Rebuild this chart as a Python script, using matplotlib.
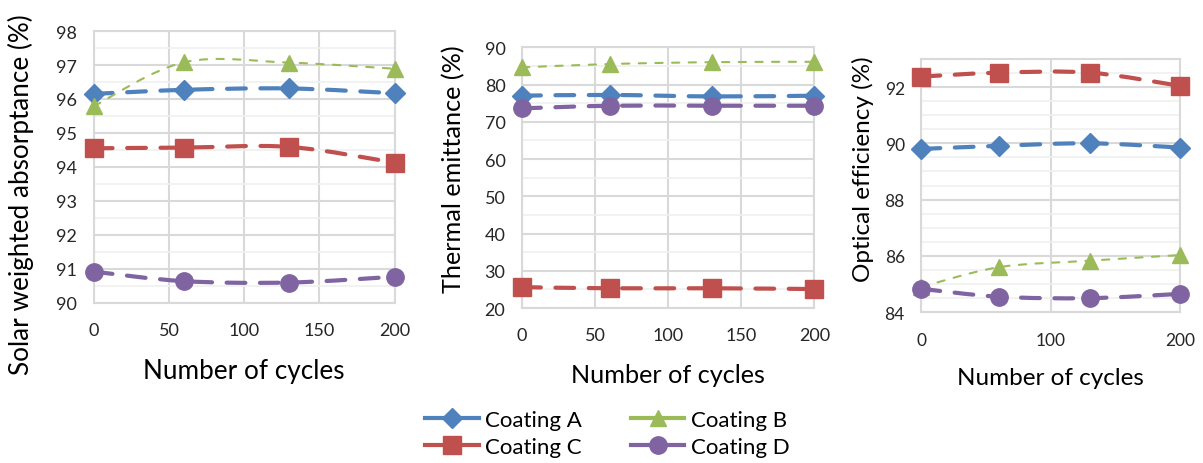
import matplotlib
matplotlib.use("Agg")
import matplotlib.pyplot as plt
import numpy as np
from matplotlib.lines import Line2D
from matplotlib.patches import PathPatch
from matplotlib.path import Path
from matplotlib.ticker import MultipleLocator

plt.rcParams["font.family"] = ["Lato", "DejaVu Sans"]

cycles = [0, 60, 130, 200]
coatings = ["Coating A", "Coating B", "Coating C", "Coating D"]

# solar weighted absorptance (%)
absorb_a = [96.15, 96.27, 96.31, 96.17]
absorb_b = [95.79, 97.08, 97.07, 96.89]
absorb_c = [94.55, 94.57, 94.59, 94.13]
absorb_d = [90.92, 90.64, 90.60, 90.77]

# thermal emittance (%)
emit_a = [77.0, 77.2, 76.8, 77.0]
emit_b = [84.6, 85.5, 86.0, 86.1]
emit_c = [25.6, 25.3, 25.3, 25.1]
emit_d = [73.6, 74.3, 74.3, 74.3]

# optical efficiency (%)
opt_a = [89.80, 89.91, 90.00, 89.85]
opt_b = [84.90, 85.60, 85.83, 86.03]
opt_c = [92.37, 92.51, 92.51, 92.04]
opt_d = [84.83, 84.55, 84.50, 84.65]

colors = ["#4F81BD", "#9BBB59", "#C0504D", "#8064A2"]
markers = ["D", "^", "s", "o"]
msizes = [10, 11.5, 13, 12.5]
widths = [3.0, 1.5, 3.0, 3.0]
dashes = [(4.5, 3.5), (3.5, 4.5), (4.5, 3.5), (4.5, 3.5)]


def smooth_path(x, y):
    # Excel-style smoothed line: cubic Bezier through the data points
    pts = np.column_stack([x, y]).astype(float)
    ext = np.vstack([pts[0], pts, pts[-1]])
    verts = [pts[0]]
    codes = [Path.MOVETO]
    for i in range(len(pts) - 1):
        p0, p1, p2, p3 = ext[i], ext[i + 1], ext[i + 2], ext[i + 3]
        verts += [p1 + (p2 - p0) / 6, p2 - (p3 - p1) / 6, p2]
        codes += [Path.CURVE4] * 3
    return Path(verts, codes)


def draw_panel(ax, series, ylim, ymajor, yminor, xmajor, ylabel, tick_fs, lab_fs):
    for k, ys in enumerate(series):
        patch = PathPatch(smooth_path(cycles, ys), fill=False, edgecolor=colors[k],
                          lw=widths[k], linestyle=(0, dashes[k]), capstyle="round", zorder=3)
        ax.add_patch(patch)
        ax.plot(cycles, ys, linestyle="none", marker=markers[k], ms=msizes[k],
                color=colors[k], zorder=4, clip_on=False)
    ax.set_xlim(0, 200)
    ax.set_ylim(*ylim)
    ax.xaxis.set_major_locator(MultipleLocator(xmajor))
    ax.yaxis.set_major_locator(MultipleLocator(ymajor))
    ax.yaxis.set_minor_locator(MultipleLocator(yminor))
    ax.grid(which="major", color="#D9D9D9", lw=1.5, zorder=0)
    ax.grid(which="minor", axis="y", color="#F0F0F0", lw=1.2, zorder=0)
    ax.set_axisbelow(True)
    for s in ax.spines.values():
        s.set_color("#D9D9D9")
        s.set_linewidth(1.5)
    ax.tick_params(which="both", length=0, labelsize=tick_fs, colors="#262626", pad=12)
    ax.tick_params(axis="x", pad=14)
    ax.set_ylabel(ylabel, fontsize=lab_fs)
    ax.set_xlabel("Number of cycles", fontsize=lab_fs, labelpad=14)


fig = plt.figure(figsize=(12.03, 4.64), dpi=100)
ax1 = fig.add_axes([0.078, 0.345, 0.250, 0.586])
ax2 = fig.add_axes([0.434, 0.334, 0.243, 0.562])
ax3 = fig.add_axes([0.766, 0.325, 0.215, 0.546])

draw_panel(ax1, [absorb_a, absorb_b, absorb_c, absorb_d], (90, 98), 1, 0.5, 50,
           "Solar weighted absorptance (%)", 13, 18.8)
draw_panel(ax2, [emit_a, emit_b, emit_c, emit_d], (20, 90), 10, 5, 50,
           "Thermal emittance (%)", 13, 18.2)
draw_panel(ax3, [opt_a, opt_b, opt_c, opt_d], (84, 93), 2, 0.5, 100,
           "Optical efficiency (%)", 12.5, 17.5)
ax1.yaxis.set_label_coords(-0.20, 0.40)
ax2.yaxis.set_label_coords(-0.195, 0.536)
ax3.yaxis.set_label_coords(-0.185, 0.57)

handles = [Line2D([], [], color=colors[k], lw=3, marker=markers[k], ms=msizes[k])
           for k in range(4)]
order = [0, 2, 1, 3]  # legend fills column-wise: A, B on top row
fig.legend([handles[i] for i in order], [coatings[i] for i in order], ncol=2,
           loc="center", bbox_to_anchor=(0.505, 0.064), frameon=False, fontsize=16,
           handlelength=2.4, columnspacing=2.2, labelspacing=0.3, handletextpad=0.3)

fig.savefig("out.png", dpi=100)
